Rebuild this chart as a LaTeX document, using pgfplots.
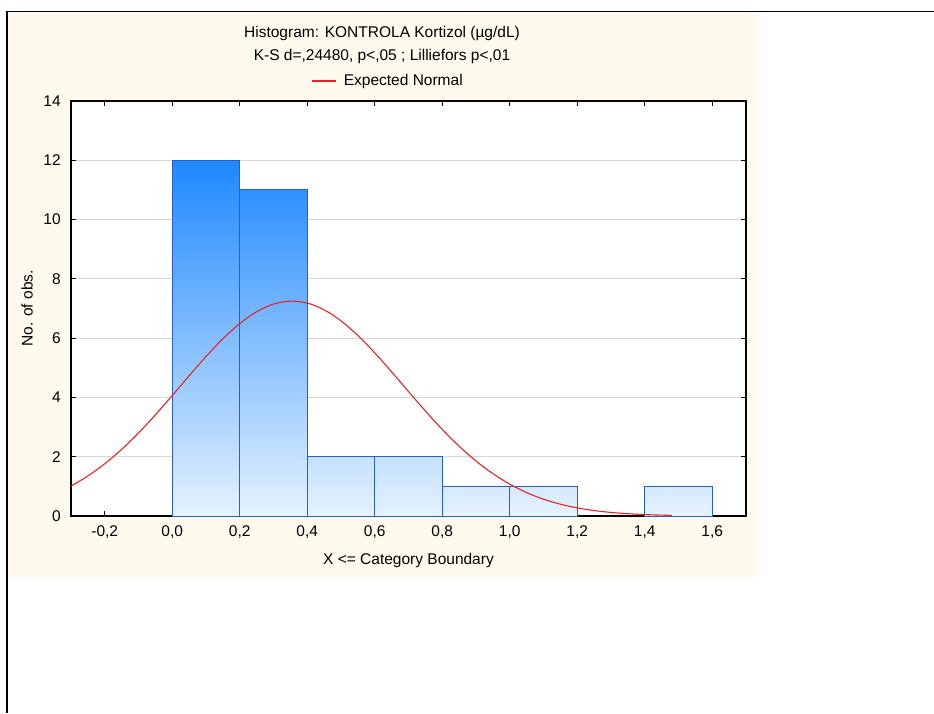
\documentclass[border=0pt]{standalone}
\usepackage{pgfplots}
\pgfplotsset{compat=1.18}
\usepackage{fontspec}
\setmainfont{Liberation Sans}
\definecolor{beige}{RGB}{255,250,237}
\definecolor{barLight}{RGB}{230,242,255}
\definecolor{barDark}{RGB}{30,136,255}
\definecolor{barEdge}{RGB}{40,95,205}
\definecolor{curveRed}{RGB}{232,36,36}
\definecolor{gridGray}{RGB}{215,215,215}
\begin{document}
\fontsize{15.5}{18}\selectfont
\begin{tikzpicture}
\path[use as bounding box] (0,0) rectangle (934pt,713pt);
\fill[beige] (8pt,136pt) rectangle (757pt,700pt);
\draw[line width=1.5pt] (6.75pt,0pt) -- (6.75pt,701.25pt) -- (934pt,701.25pt);
\node at (382pt,680pt) {Histogram: KONTROLA Kortizol (µg/dL)};
\node at (382pt,657pt) {K-S d=,24480, p<,05 ; Lilliefors p<,01};
\begin{axis}[
  at={(71pt,197pt)}, anchor=south west,
  scale only axis, width=675pt, height=415pt,
  xmin=-0.3, xmax=1.7, ymin=0, ymax=14,
  xtick={-0.2,0,0.2,0.4,0.6,0.8,1.0,1.2,1.4,1.6},
  ytick={0,2,4,6,8,10,12,14},
  tick pos=both, tick align=inside,
  major tick length=5pt,
  every tick/.style={black, line width=1pt},
  axis line style={black, line width=1.5pt},
  axis background/.style={fill=white},
  ymajorgrids, major grid style={gridGray, line width=1pt},
  /pgf/number format/assume math mode=true,
  xticklabel style={/pgf/number format/.cd, fixed, fixed zerofill, precision=1, use comma, /tikz/.cd, yshift=-4pt},
  yticklabel style={xshift=-5pt},
  xlabel={X <= Category Boundary},
  ylabel={No. of obs.},
  every axis x label/.style={at={(axis description cs:0.5,-0.108)}, anchor=center},
  every axis y label/.style={at={(axis description cs:-0.065,0.5)}, rotate=90, anchor=center},
  legend style={draw=none, fill=none, at={(axis description cs:0.47,1)}, anchor=south, yshift=10pt, inner sep=1pt},
  legend image code/.code={\draw[#1] (0pt,0pt) -- (24pt,0pt); \path (29pt,0pt);},
  legend cell align=left,
]
\addplot[ybar, bar width=0.2, bar shift=0pt, draw=barEdge, line width=1pt,
  top color=barDark, bottom color=barLight, forget plot] coordinates {(0.1,12)};
\addplot[ybar, bar width=0.2, bar shift=0pt, draw=barEdge, line width=1pt,
  top color=barDark!91.7!barLight, bottom color=barLight, forget plot] coordinates {(0.3,11)};
\addplot[ybar, bar width=0.2, bar shift=0pt, draw=barEdge, line width=1pt,
  top color=barDark!16.7!barLight, bottom color=barLight, forget plot] coordinates {(0.5,2) (0.7,2)};
\addplot[ybar, bar width=0.2, bar shift=0pt, draw=barEdge, line width=1pt,
  top color=barDark!8.3!barLight, bottom color=barLight, forget plot] coordinates {(0.9,1) (1.1,1) (1.5,1)};
\addplot[curveRed, line width=1.1pt, no markers, smooth] coordinates {
(-0.30,1.011) (-0.25,1.350) (-0.20,1.762) (-0.15,2.247) (-0.10,2.802) (-0.05,3.414)
(0.00,4.064) (0.05,4.731) (0.10,5.379) (0.15,5.978) (0.20,6.493) (0.25,6.892)
(0.30,7.150) (0.35,7.249) (0.40,7.183) (0.45,6.956) (0.50,6.583) (0.55,6.088)
(0.60,5.503) (0.65,4.862) (0.70,4.198) (0.75,3.542) (0.80,2.921) (0.85,2.354)
(0.90,1.853) (0.95,1.428) (1.00,1.074) (1.05,0.789) (1.10,0.567) (1.15,0.398)
(1.20,0.273) (1.25,0.183) (1.30,0.120) (1.35,0.077) (1.40,0.048) (1.45,0.029) (1.48,0.022)};
\addlegendentry{Expected Normal}
\end{axis}
\end{tikzpicture}
\end{document}
